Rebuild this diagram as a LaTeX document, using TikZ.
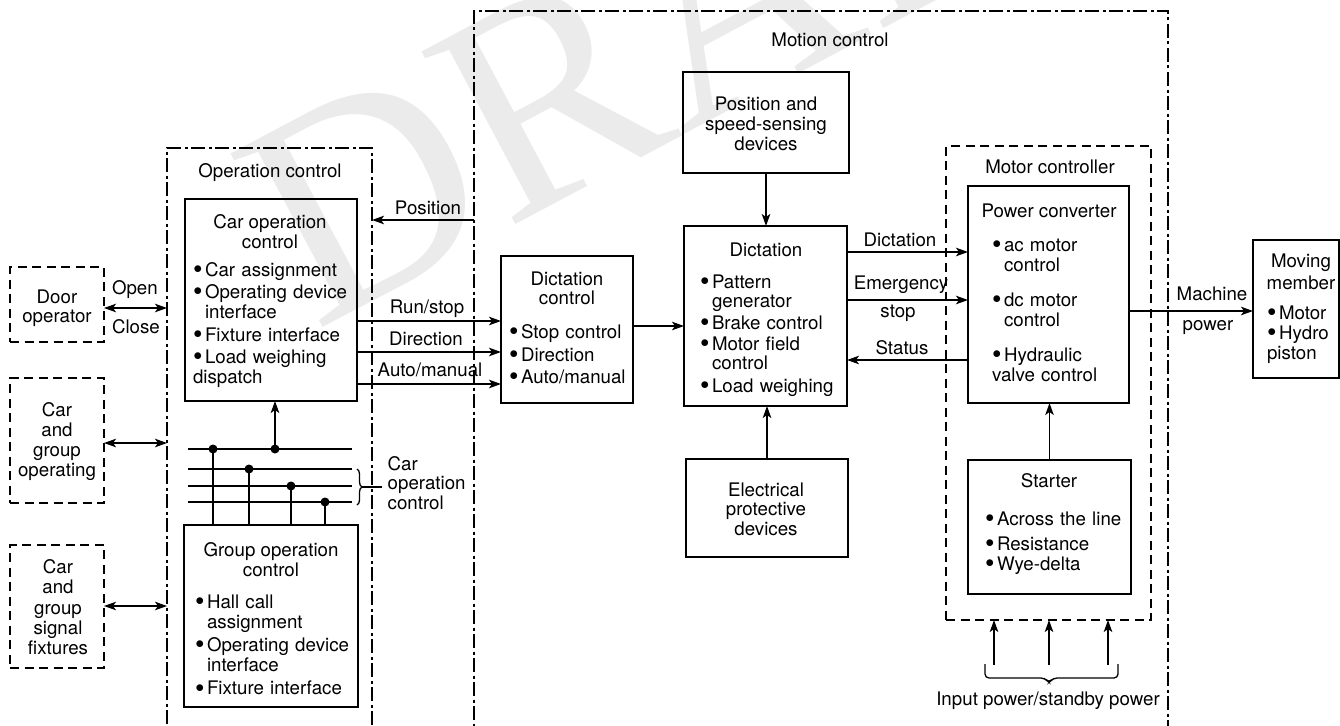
\documentclass[tikz,border=0pt]{standalone}
\usepackage{graphicx}
\usepackage{fontspec}
\setmainfont{TeX Gyre Heros}
\newfontfamily\wmfont{Liberation Serif}
\usetikzlibrary{arrows.meta,decorations.pathreplacing}
\newcommand\fs[1]{\fontsize{18.7}{#1}\selectfont}
\newcommand\ft{\rule{0pt}{14pt}}
\newcommand\bul{\makebox[12pt][l]{\ft\raisebox{-2.2pt}{\scalebox{1.45}{\textbullet}}}}
\newcommand\bi[1]{\noindent\hangindent=12pt\hangafter=1\bul#1}
\newcommand\bj[1]{\par\bi{#1}}
\newcommand\lst[2]{\fontsize{18.7}{#1}\selectfont\setlength\parskip{#2}\setlength\parindent{0pt}}
\begin{document}
\begin{tikzpicture}[x=1pt,y=-1pt,
  >={Stealth[length=12pt,width=8.5pt,inset=3pt]},
  blk/.style={draw, line width=2pt, inner sep=0pt, outer sep=0pt},
  dbox/.style={draw, line width=1.5pt, dash pattern=on 9pt off 5.5pt, inner sep=0pt, outer sep=0pt},
  region/.style={draw, line width=1.3pt, dash pattern=on 14pt off 3.5pt on 3pt off 3.5pt, inner sep=0pt, outer sep=0pt},
  conn/.style={line width=1.5pt},
  arr/.style={conn, ->},
  darr/.style={conn, <->},
  brc/.style={line width=1.3pt},
  txt/.style={inner sep=0pt, outer sep=0pt, font=\fs{20}},
  lbl/.style={txt, anchor=base},
  lstnode/.style={txt, align=left, anchor=north west}]
\useasboundingbox (0,0) rectangle (1340,725);
\clip (0,0) rectangle (1340,725);

% watermark
\node[rotate=28, anchor=base west, inner sep=0pt, outer sep=0pt, text=black!8,
  font=\wmfont\fontsize{300}{300}\selectfont] (wm) at (315,331) {DRAFT};

% regions
\node[region, minimum width=205pt, minimum height=612pt] (opctl) at (269.5,454) {};
\node[region, minimum width=694pt, minimum height=749pt] (motion) at (821,385.5) {};
\node[dbox, minimum width=205pt, minimum height=474pt] (motorctl) at (1048.5,383) {};

% blocks
\node[blk, minimum width=172pt, minimum height=202pt] (carop) at (271,300) {};
\node[blk, minimum width=174pt, minimum height=182pt] (grpop) at (271,616) {};
\node[dbox, minimum width=94pt, minimum height=75pt] (door) at (57,304.5) {};
\node[dbox, minimum width=94pt, minimum height=125pt] (cargrp) at (57,440.5) {};
\node[dbox, minimum width=94pt, minimum height=123pt] (signal) at (57,606.5) {};
\node[blk, minimum width=132pt, minimum height=147pt] (dictctl) at (567,329.5) {};
\node[blk, minimum width=166pt, minimum height=101pt] (possens) at (766,122.5) {};
\node[blk, minimum width=163pt, minimum height=180pt] (dict) at (765.5,316) {};
\node[blk, minimum width=162pt, minimum height=98pt] (elec) at (767,508) {};
\node[blk, minimum width=161pt, minimum height=217pt] (powconv) at (1048.5,294.5) {};
\node[blk, minimum width=163pt, minimum height=134pt] (starter) at (1049.5,527) {};
\node[blk, minimum width=86pt, minimum height=138pt] (moving) at (1296,309) {};

% region titles
\node[lbl] (opctl-t) at (270,177.5) {Operation control};
\node[lbl] (motion-t) at (830,46.5) {Motion control};
\node[lbl] (motorctl-t) at (1050,173.3) {Motor controller};

% block texts
\node[txt, align=center, anchor=north] (carop-t) at (270,214) {\ft Car operation\\control};
\node[lstnode, text width=170pt] (carop-l) at (193,262) {\lst{20}{2.5pt}\bi{Car assignment}\bj{Operating device\newline interface}\bj{Fixture interface}\bj{Load weighing\newline dispatch}};
\node[txt, align=center, anchor=north, font=\fs{20.7}] (grpop-t) at (271,542) {\ft Group operation\\control};
\node[lstnode, text width=170pt] (grpop-l) at (195,594.3) {\lst{20}{3.3pt}\bi{Hall call\newline assignment}\bj{Operating device\newline interface}\bj{Fixture interface}};
\node[txt, align=center, anchor=north, font=\fs{19}] (door-t) at (57,289) {\ft Door\\operator};
\node[txt, align=center, anchor=north, font=\fs{20}] (cargrp-t) at (57,402) {\ft Car\\and\\group\\operating};
\node[txt, align=center, anchor=north, font=\fs{20.4}] (signal-t) at (58,559.3) {\ft Car\\and\\group\\signal\\fixtures};
\node[txt, align=center, anchor=north, font=\fs{19.5}] (dictctl-t) at (567,271) {\ft Dictation\\control};
\node[lstnode, text width=125pt] (dictctl-l) at (509,324.5) {\lst{20}{2.5pt}\bi{Stop control}\bj{Direction}\bj{Auto/manual}};
\node[txt, align=center, anchor=north, font=\fs{19.8}] (possens-t) at (766,96.5) {\ft Position and\\speed-sensing\\devices};
\node[lbl] (dict-t) at (766,256.5) {Dictation};
\node[lstnode, text width=150pt] (dict-l) at (700,274.5) {\lst{19}{2.5pt}\bi{Pattern\newline generator}\bj{Brake control}\bj{Motor field\newline control}\bj{Load weighing}};
\node[txt, align=center, anchor=north, font=\fs{19.5}] (elec-t) at (766,482) {\ft Electrical\\protective\\devices};
\node[lbl] (powconv-t) at (1049,217.3) {Power converter};
\node[lstnode, text width=140pt] (powconv-l) at (992,237.7) {\lst{20}{15pt}\bi{ac motor\newline control}\bj{dc motor\newline control}\bj{Hydraulic\newline valve control}};
\node[txt, align=center, anchor=north, font=\fs{21.6}] (moving-t) at (1301,253.7) {\ft Moving\\member};
\node[lstnode, text width=65pt] (moving-l) at (1267,305) {\lst{20.5}{0pt}\bi{Motor}\bj{Hydro\newline piston}};
\node[lbl] (starter-t) at (1049,487.3) {Starter};
\node[lstnode, text width=150pt] (starter-l) at (985,511) {\lst{25}{0pt}\bi{Across the line}\bj{Resistance}\bj{Wye-delta}};

% connector labels
\node[txt, anchor=base west] (open) at (112,294) {Open};
\node[txt, anchor=base west] (close) at (112,333) {Close};
\node[lbl] (pos-l) at (428,214) {Position};
\node[lbl] (run-l) at (427,313) {Run/stop};
\node[lbl] (dir-l) at (426,345) {Direction};
\node[lbl] (auto-l) at (430,376) {Auto/manual};
\node[txt, align=left, anchor=north west, font=\fs{19.5}] (bus-t) at (387.7,456) {\ft Car\\operation\\control};
\node[lbl] (dict-a) at (900,246) {Dictation};
\node[lbl] (emer-a) at (901,289) {Emergency};
\node[lbl] (stop-a) at (898,317.5) {stop};
\node[lbl] (stat-a) at (902,354) {Status};
\node[lbl] (mach-a) at (1212,300) {Machine};
\node[lbl] (pow-a) at (1208,330) {power};
\node[lbl] (input-l) at (1048,705) {Input power/standby power};

% y levels
\coordinate (yOpen) at (0,308);
\coordinate (yCG) at (0,443);
\coordinate (ySig) at (0,606);
\coordinate (yPos) at (0,220);
\coordinate (yRun) at (0,321);
\coordinate (yDir) at (0,352);
\coordinate (yAuto) at (0,384);
\coordinate (yDC) at (0,326);
\coordinate (yDict) at (0,252);
\coordinate (yEmer) at (0,300);
\coordinate (yStat) at (0,360);
\coordinate (yMach) at (0,311);

% connectors
\draw[darr] (door.east |- yOpen) -- (opctl.west |- yOpen);
\draw[darr] (cargrp.east |- yCG) -- (opctl.west |- yCG);
\draw[darr] (signal.east |- ySig) -- (opctl.west |- ySig);
\draw[arr] (motion.west |- yPos) -- (opctl.east |- yPos);
\draw[arr] (carop.east |- yRun) -- (dictctl.west |- yRun);
\draw[arr] (carop.east |- yDir) -- (dictctl.west |- yDir);
\draw[arr] (carop.east |- yAuto) -- (dictctl.west |- yAuto);
\draw[arr] (dictctl.east |- yDC) -- (dict.west |- yDC);
\draw[arr] (possens.south) -- (possens.south |- dict.north);
\draw[arr] (elec.north) -- (elec.north |- dict.south);
\draw[arr] (dict.east |- yDict) -- (powconv.west |- yDict);
\draw[arr] (dict.east |- yEmer) -- (powconv.west |- yEmer);
\draw[arr] (powconv.west |- yStat) -- (dict.east |- yStat);
\draw[arr] (powconv.east |- yMach) -- (moving.west |- yMach);
\draw[arr] (starter.north) -- (starter.north |- powconv.south);

% bus
\coordinate (b1w) at (188,449); \coordinate (b1e) at (352,449);
\coordinate (b2w) at (188,469); \coordinate (b2e) at (352,469);
\coordinate (b3w) at (188,486); \coordinate (b3e) at (352,486);
\coordinate (b4w) at (188,502); \coordinate (b4e) at (352,502);
\draw[conn] (b1w) -- (b1e);
\draw[conn] (b2w) -- (b2e);
\draw[conn] (b3w) -- (b3e);
\draw[conn] (b4w) -- (b4e);
\coordinate (j1) at (213,449);
\coordinate (j2) at (275,449);
\coordinate (j3) at (249,469);
\coordinate (j4) at (291,486);
\coordinate (j5) at (325,502);
\draw[conn] (j1) -- (j1 |- grpop.north);
\draw[conn] (j3) -- (j3 |- grpop.north);
\draw[conn] (j4) -- (j4 |- grpop.north);
\draw[conn] (j5) -- (j5 |- grpop.north);
\draw[arr] (j2) -- (j2 |- carop.south);
\foreach \j in {j1,j2,j3,j4,j5} \fill (\j) circle (4.5pt);

% bus brace
\coordinate (br1) at (357,469);
\coordinate (br2) at (357,505);
\draw[brc, decorate, decoration={brace, amplitude=5pt}] (br1) -- (br2);
\coordinate (tk1) at (362,487);
\coordinate (tk2) at (382,487);
\draw[brc] (tk1) -- (tk2);

% input power
\coordinate (in1) at (994,665);
\coordinate (in2) at (1049,665);
\coordinate (in3) at (1108,665);
\draw[arr] (in1) -- (in1 |- motorctl.south);
\draw[arr] (in2) -- (in2 |- motorctl.south);
\draw[arr] (in3) -- (in3 |- motorctl.south);
\draw[brc, rounded corners=4pt] (985,664) -- (985,678) -- (1045,678) -- (1049,683) -- (1053,678) -- (1118,678) -- (1118,664);
\end{tikzpicture}
\end{document}
